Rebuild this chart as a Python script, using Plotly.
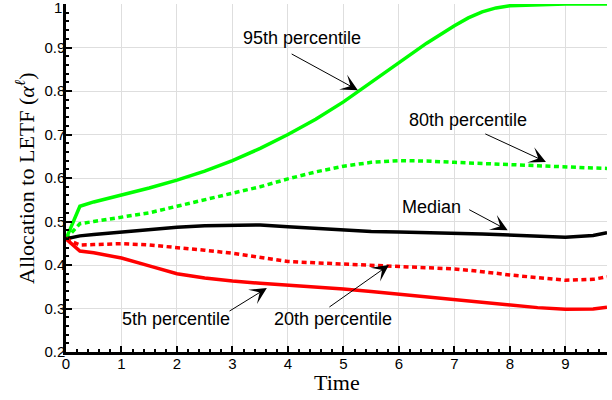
import plotly.graph_objects as go

# ---- data ----
time = [0, 0.25, 0.5, 1, 1.5, 2, 2.5, 3, 3.5, 4, 4.5, 5, 5.5, 6, 6.5, 7, 7.25, 7.5, 7.75, 8, 8.5, 9, 9.5, 9.75]
p95 = [0.46, 0.535, 0.545, 0.56, 0.577, 0.595, 0.616, 0.64, 0.668, 0.70, 0.735, 0.775, 0.82, 0.865,
       0.91, 0.95, 0.968, 0.982, 0.991, 0.996, 0.999, 1.0, 1.0, 1.0]
p80 = [0.46, 0.495, 0.50, 0.51, 0.52, 0.535, 0.55, 0.565, 0.58, 0.598, 0.614, 0.627, 0.636, 0.64,
       0.639, 0.636, 0.6345, 0.633, 0.6315, 0.63, 0.627, 0.625, 0.623, 0.622]
median = [0.46, 0.467, 0.47, 0.476, 0.482, 0.487, 0.49, 0.492, 0.492, 0.488, 0.484, 0.48, 0.477, 0.476,
          0.475, 0.473, 0.472, 0.471, 0.470, 0.469, 0.466, 0.464, 0.468, 0.474]
p20 = [0.46, 0.446, 0.447, 0.449, 0.446, 0.441, 0.434, 0.427, 0.418, 0.408, 0.405, 0.402, 0.40, 0.398,
       0.395, 0.391, 0.388, 0.385, 0.381, 0.377, 0.37, 0.365, 0.367, 0.373]
p5 = [0.46, 0.432, 0.428, 0.416, 0.398, 0.38, 0.37, 0.363, 0.358, 0.354, 0.35, 0.345, 0.339, 0.333,
      0.328, 0.322, 0.3185, 0.315, 0.3115, 0.308, 0.302, 0.298, 0.299, 0.303]

x_ticks = [0, 1, 2, 3, 4, 5, 6, 7, 8, 9]
y_ticks = [0.2, 0.3, 0.4, 0.5, 0.6, 0.7, 0.8, 0.9, 1.0]
y_tick_text = ["0.2", "0.3", "0.4", "0.5", "0.6", "0.7", "0.8", "0.9", "1"]

labels = ["95th percentile", "80th percentile", "Median", "5th percentile", "20th percentile"]
# label text centre (x, y), arrow tail (x, y), arrow head (x, y) in data units
label_pos = [(4.25, 0.922), (7.24, 0.733), (6.58, 0.533), (1.98, 0.276), (4.81, 0.276)]
arrow_tail = [(4.04, 0.887), (7.53, 0.703), (7.24, 0.529), (2.92, 0.292), (4.72, 0.301)]
arrow_head = [(5.26, 0.802), (8.65, 0.637), (7.96, 0.480), (3.62, 0.347), (5.82, 0.400)]

GREEN = "#00ff00"
RED = "#ff0000"
BLACK = "#000000"
LW = 3.5
DOT = "5px,3.5px"

series = [
    (p95, GREEN, "solid"),
    (p80, GREEN, DOT),
    (median, BLACK, "solid"),
    (p20, RED, DOT),
    (p5, RED, "solid"),
]

fig = go.Figure()
for ys, col, dash in series:
    fig.add_trace(go.Scatter(x=time, y=ys, mode="lines",
                             line=dict(color=col, width=LW, dash=dash),
                             showlegend=False, hoverinfo="skip"))

sans = "Liberation Sans, Arial, sans-serif"
annots = []
for txt, (tx, ty) in zip(labels, label_pos):
    annots.append(dict(x=tx, y=ty, xref="x", yref="y", text=txt, showarrow=False,
                       font=dict(family=sans, size=18, color="black"),
                       xanchor="center", yanchor="middle"))
for (hx, hy), (tx, ty) in zip(arrow_head, arrow_tail):
    annots.append(dict(x=hx, y=hy, xref="x", yref="y", ax=tx, ay=ty, axref="x", ayref="y",
                       text="", showarrow=True, arrowhead=3, arrowsize=2.8, arrowwidth=1,
                       arrowcolor="black", standoff=0, startstandoff=0))

# top y tick label (plotly hides it because it touches the page edge)
annots.append(dict(x=0, y=y_ticks[-1], xref="paper", yref="y", text=y_tick_text[-1], showarrow=False,
                   font=dict(family=sans, size=15, color="black"), xanchor="right", yanchor="middle",
                   xshift=-2, yshift=-3))

serif = "Liberation Serif, Times New Roman, serif"
annots.append(dict(x=0.5, y=-0.089, xref="paper", yref="paper", text="Time", showarrow=False,
                   font=dict(family=serif, size=22, color="black"), xanchor="center", yanchor="middle"))
annots.append(dict(x=-0.0758, y=0.5, xref="paper", yref="paper",
                   text="Allocation to LETF (<i>α</i><sup><i>ℓ</i></sup>)", showarrow=False,
                   textangle=-90, font=dict(family=serif, size=22, color="black"),
                   xanchor="center", yanchor="middle"))

axis_common = dict(
    showline=True, linewidth=2.5, linecolor="black", mirror=False,
    ticks="inside", ticklen=6, tickwidth=2, tickcolor="black",
    showgrid=True, gridcolor="#dedede", gridwidth=1, zeroline=False, automargin=False,
    tickfont=dict(family=sans, size=15, color="black"),
)

fig.update_layout(
    width=612, height=400,
    margin=dict(l=66, r=5, t=4, b=48),
    paper_bgcolor="white", plot_bgcolor="white",
    annotations=annots,
    xaxis=dict(range=[0, 9.75], tickvals=x_ticks, ticklabelstandoff=-4,
               minor=dict(dtick=0.2, tick0=0, ticks="inside", ticklen=3.5, tickwidth=1.5, tickcolor="black", showgrid=False),
               **axis_common),
    yaxis=dict(range=[0.2, 1.0], tickvals=y_ticks, ticktext=y_tick_text, ticklabelstandoff=-5,
               minor=dict(dtick=0.02, tick0=0.2, ticks="inside", ticklen=3.5, tickwidth=1.5, tickcolor="black", showgrid=False),
               **axis_common),
)

fig.write_html("out.html", config={"displayModeBar": False},
               post_script="document.body.style.margin='0';document.body.style.overflow='hidden';")
